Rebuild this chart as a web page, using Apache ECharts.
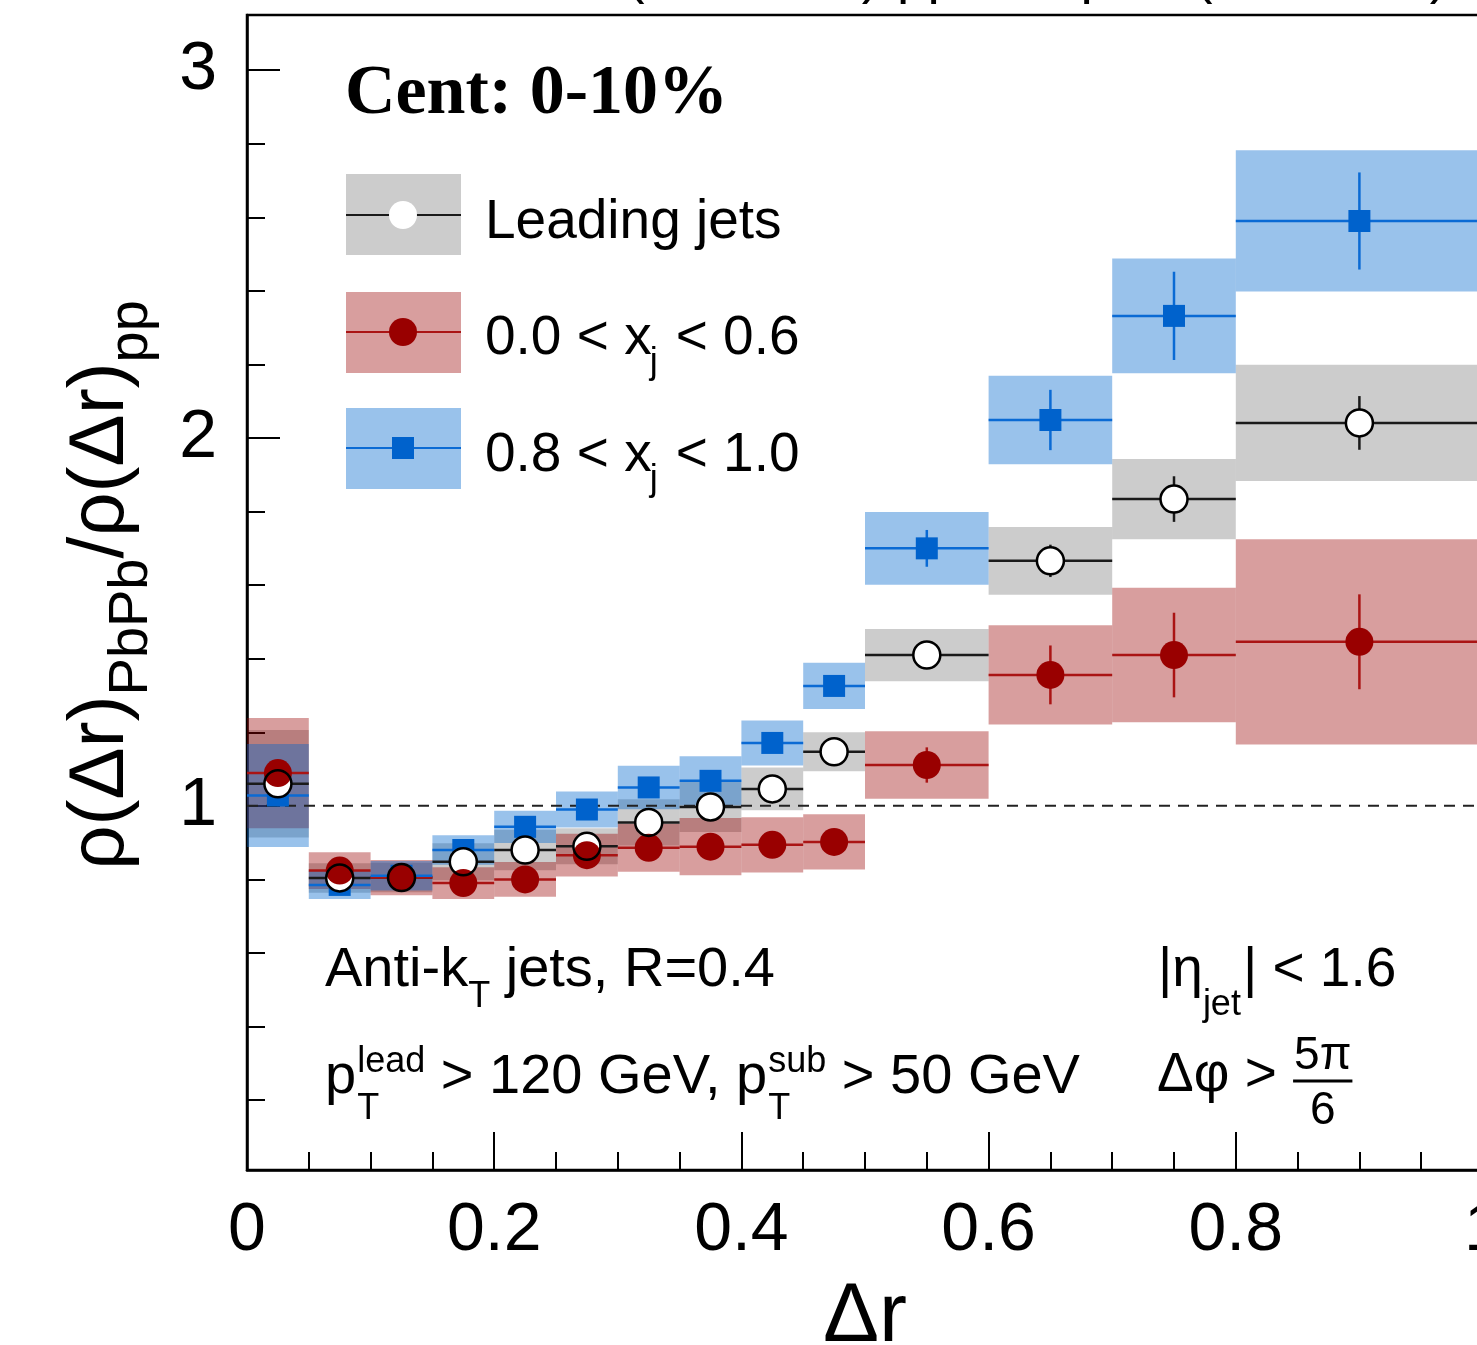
<!DOCTYPE html>
<html>
<head>
<meta charset="utf-8">
<script src="https://cdn.jsdelivr.net/npm/echarts@6/dist/echarts.min.js"></script>
<style>
  html, body { margin: 0; padding: 0; background: #fff; }
  #chart { width: 1477px; height: 1345px; }
</style>
</head>
<body>
<div id="chart"></div>
<script>
// Δr bins (lower / upper edges)
const binLow  = [0.00, 0.05, 0.10, 0.15, 0.20, 0.25, 0.30, 0.35, 0.40, 0.45, 0.50, 0.60, 0.70, 0.80];
const binHigh = [0.05, 0.10, 0.15, 0.20, 0.25, 0.30, 0.35, 0.40, 0.45, 0.50, 0.60, 0.70, 0.80, 1.00];

// Leading jets
const leadValue = [1.060, 0.804, 0.805, 0.848, 0.880, 0.890, 0.955, 0.997, 1.046, 1.147, 1.410, 1.666, 1.834, 2.041];
const leadStat  = [0.008, 0.006, 0.006, 0.008, 0.008, 0.010, 0.010, 0.012, 0.014, 0.018, 0.024, 0.044, 0.062, 0.073];
const leadSys   = [0.146, 0.040, 0.040, 0.050, 0.055, 0.049, 0.063, 0.068, 0.058, 0.053, 0.071, 0.092, 0.109, 0.158];

// 0.0 < xj < 0.6
const lowXjValue = [1.089, 0.824, 0.805, 0.790, 0.800, 0.866, 0.886, 0.889, 0.894, 0.902, 1.111, 1.356, 1.410, 1.446];
const lowXjStat  = [0.010, 0.008, 0.008, 0.010, 0.010, 0.012, 0.012, 0.014, 0.016, 0.022, 0.048, 0.080, 0.115, 0.129];
const lowXjSys   = [0.150, 0.050, 0.048, 0.043, 0.047, 0.058, 0.065, 0.078, 0.075, 0.075, 0.092, 0.135, 0.183, 0.279];

// 0.8 < xj < 1.0
const highXjValue = [1.028, 0.785, 0.810, 0.880, 0.943, 0.990, 1.050, 1.068, 1.171, 1.326, 1.700, 2.049, 2.332, 2.590];
const highXjStat  = [0.010, 0.008, 0.008, 0.010, 0.010, 0.012, 0.014, 0.016, 0.020, 0.025, 0.050, 0.082, 0.120, 0.132];
const highXjSys   = [0.140, 0.038, 0.040, 0.040, 0.044, 0.049, 0.059, 0.067, 0.061, 0.063, 0.099, 0.120, 0.156, 0.192];

// Axis ticks and labels
const xTickLabels = ['0', '0.2', '0.4', '0.6', '0.8', '1'];
const yMajorTicks = [1, 2, 3];
const yTickLabels = ['1', '2', '3'];
const yMinorTicks = [0.2, 0.4, 0.6, 0.8, 1.2, 1.4, 1.6, 1.8, 2.2, 2.4, 2.6, 2.8, 3.0];
const referenceLevel = 1;

const SANS = '"Liberation Sans", Arial, Helvetica, sans-serif';
const SERIF = '"Liberation Serif", "Times New Roman", serif';

const COL = {
  leadBox: 'rgba(0,0,0,0.2)',  leadLine: '#1a1a1a',
  lowBox:  'rgba(153,0,0,0.38)', lowLine: '#aa1414', lowMark: '#990000',
  highBox: 'rgba(0,102,204,0.40)', highLine: '#0a6ad4', highMark: '#0062cc'
};

const rows = (v, e) => binLow.map((lo, i) => [lo, binHigh[i], v[i], e[i]]);
const centers = v => binLow.map((lo, i) => [(lo + binHigh[i]) / 2, v[i]]);

function boxSeries(v, sys, fill, z) {
  return {
    type: 'custom', z, silent: true,
    data: rows(v, sys),
    encode: { x: [0, 1], y: 2 },
    renderItem: (params, api) => {
      const a = api.coord([api.value(0), api.value(2) + api.value(3)]);
      const b = api.coord([api.value(1), api.value(2) - api.value(3)]);
      return { type: 'rect', shape: { x: a[0], y: a[1], width: b[0] - a[0], height: b[1] - a[1] },
               style: { fill } };
    }
  };
}

function errorSeries(v, stat, stroke, z) {
  return {
    type: 'custom', z, silent: true,
    data: rows(v, stat),
    encode: { x: [0, 1], y: 2 },
    renderItem: (params, api) => {
      const lo = api.value(0), hi = api.value(1), y = api.value(2), e = api.value(3);
      const l = api.coord([lo, y]), r = api.coord([hi, y]);
      const c = api.coord([(lo + hi) / 2, y]);
      const t = api.coord([(lo + hi) / 2, y + e]), bt = api.coord([(lo + hi) / 2, y - e]);
      return { type: 'group', children: [
        { type: 'line', shape: { x1: l[0], y1: l[1], x2: r[0], y2: r[1] }, style: { stroke, lineWidth: 2.5 } },
        { type: 'line', shape: { x1: c[0], y1: t[1], x2: c[0], y2: bt[1] }, style: { stroke, lineWidth: 2.5 } }
      ]};
    }
  };
}

function markerSeries(v, symbol, size, itemStyle, z) {
  return { type: 'scatter', z, silent: true, symbol, symbolSize: size, data: centers(v),
           itemStyle: Object.assign({ opacity: 1 }, itemStyle) };
}

// ---- text helpers (layout of annotation runs) ----
const mctx = document.createElement('canvas').getContext('2d');
function tw(str, size, family, weight) {
  mctx.font = `${weight || 'normal'} ${size}px ${family || SANS}`;
  return mctx.measureText(str).width;
}
function txt(str, x, baseline, size, opts) {
  opts = opts || {};
  const fam = opts.family || SANS;
  const asc = fam === SERIF ? 0.3375 : 0.3465;
  return {
    type: 'text', x, y: baseline - asc * size, silent: true, z: 50,
    style: {
      text: str, font: `${opts.weight || 'normal'} ${size}px ${fam}`, fill: '#000',
      align: opts.align || 'left', textAlign: opts.align || 'left',
      verticalAlign: 'middle', textVerticalAlign: 'middle'
    }
  };
}

const graphics = [];
const F = 55, FS = 36, FB = 56;

// Header (runs above the frame)
graphics.push(txt('PbPb 1.7 nb\u207B\u00B9 (5.02 TeV)', 880, -4, F, { align: 'right' }));
graphics.push(txt('pp 320 pb\u207B\u00B9 (5.02 TeV)', 1448, -4, F, { align: 'right' }));

// Centrality label
graphics.push(txt('Cent: 0-10%', 345, 119, 70, { family: SERIF, weight: 'bold' }));

// Legend entries
const legendRows = [
  { top: 174, mid: 215, box: COL.leadBox, line: COL.leadLine },
  { top: 292, mid: 332, box: COL.lowBox, line: COL.lowLine },
  { top: 408, mid: 448, box: COL.highBox, line: COL.highLine }
];
legendRows.forEach(r => {
  graphics.push({ type: 'rect', silent: true, z: 40, shape: { x: 346, y: r.top, width: 115, height: 81 }, style: { fill: r.box } });
  graphics.push({ type: 'line', silent: true, z: 41, shape: { x1: 346, y1: r.mid, x2: 461, y2: r.mid }, style: { stroke: r.line, lineWidth: 2 } });
});
graphics.push({ type: 'circle', silent: true, z: 42, shape: { cx: 403, cy: 215, r: 14 }, style: { fill: '#fff' } });
graphics.push({ type: 'circle', silent: true, z: 42, shape: { cx: 403, cy: 332, r: 14 }, style: { fill: COL.lowMark } });
graphics.push({ type: 'rect', silent: true, z: 42, shape: { x: 392, y: 437, width: 22, height: 22 }, style: { fill: COL.highMark } });

graphics.push(txt('Leading jets', 485, 242, F));
function xjEntry(lo, hi, baseline) {
  const head = lo + ' < x';
  const w = tw(head, F);
  graphics.push(txt(head, 485, baseline, F));
  graphics.push(txt('j', 485 + w - 2, baseline + 18, FS));
  graphics.push(txt('< ' + hi, 485 + w + 24, baseline, F));
}
xjEntry('0.0', '0.6', 358);
xjEntry('0.8', '1.0', 475);

// Jet selection, lower left
(function () {
  let x = 325;
  graphics.push(txt('Anti-k', x, 990, FB)); x += tw('Anti-k', FB);
  graphics.push(txt('T', x, 1010, FS)); x += tw('T', FS) + tw(' ', FB);
  graphics.push(txt('jets, R=0.4', x, 990, FB));

  x = 325;
  graphics.push(txt('p', x, 1097, FB)); x += tw('p', FB) + 1;
  graphics.push(txt('lead', x, 1075, FS));
  graphics.push(txt('T', x, 1122, FS));
  x += tw('lead', FS) + tw(' ', FB);
  const mid = '> 120 GeV, p';
  graphics.push(txt(mid, x, 1097, FB)); x += tw(mid, FB) + 1;
  graphics.push(txt('sub', x, 1075, FS));
  graphics.push(txt('T', x, 1122, FS));
  x += tw('sub', FS) + tw(' ', FB);
  graphics.push(txt('> 50 GeV', x, 1097, FB));
})();

// Kinematic cuts, lower right
(function () {
  let x = 1158;
  graphics.push(txt('|\u03B7', x, 990, F)); x += tw('|\u03B7', F);
  graphics.push(txt('jet', x, 1018, FS)); x += tw('jet', FS) + 2;
  graphics.push(txt('| < 1.6', x, 990, F));

  x = 1157;
  const lhs = '\u0394\u03C6 > ';
  graphics.push(txt(lhs, x, 1095, F)); x += tw(lhs, F);
  const fw = tw('5\u03C0', 46);
  const cx = x + fw / 2 + 2;
  graphics.push(txt('5\u03C0', cx, 1072, 46, { align: 'center' }));
  graphics.push({ type: 'line', silent: true, z: 50, shape: { x1: cx - fw / 2 - 1, y1: 1081, x2: cx + fw / 2 + 1, y2: 1081 }, style: { stroke: '#000', lineWidth: 3 } });
  graphics.push(txt('6', cx, 1127, 46, { align: 'center' }));
})();

// Rotated y-axis title: ρ(Δr)_PbPb / ρ(Δr)_pp
(function () {
  const FM = 78, FSUB = 56, subShift = 22;
  const parts = [
    { t: '\u03C1(\u0394r)', f: FM, dy: 0 },
    { t: 'PbPb', f: FSUB, dy: subShift },
    { t: '/\u03C1(\u0394r)', f: FM, dy: 0 },
    { t: 'pp', f: FSUB, dy: subShift }
  ];
  const total = parts.reduce((s, p) => s + tw(p.t, p.f), 0);
  const children = [];
  let lx = 0;
  parts.forEach(p => {
    children.push(txt(p.t, lx, p.dy, p.f));
    lx += tw(p.t, p.f);
  });
  graphics.push({ type: 'group', x: 129, y: 585 + total / 2, rotation: Math.PI / 2, silent: true, z: 50, children });
})();

const option = {
  animation: false,
  backgroundColor: '#fff',
  grid: { left: 247, top: 15, width: 1236, height: 1155, outerBoundsMode: 'none', containLabel: false,
          show: true, borderColor: '#000', borderWidth: 2.5, backgroundColor: 'rgba(0,0,0,0)' },
  xAxis: {
    type: 'value', min: 0, max: 1, interval: 0.2,
    axisLine: { show: true, onZero: false, lineStyle: { color: '#000', width: 2.5 } },
    axisTick: { show: true, inside: true, length: 38, lineStyle: { color: '#000', width: 2 } },
    minorTick: { show: true, splitNumber: 4, length: 18, lineStyle: { color: '#000', width: 2 } },
    axisLabel: { color: '#000', fontSize: 68, fontFamily: SANS, margin: 27, hideOverlap: false,
                 formatter: v => xTickLabels[Math.round(v / 0.2)] },
    splitLine: { show: false }, minorSplitLine: { show: false },
    name: '\u0394r', nameLocation: 'middle', nameGap: 106,
    nameTextStyle: { color: '#000', fontSize: 84, fontFamily: SANS }
  },
  yAxis: [
    {
      type: 'value', min: 0.01, max: 3.15, position: 'left',
      axisLine: { show: true, onZero: false, lineStyle: { color: '#000', width: 2.5 } },
      axisTick: { show: true, inside: true, length: 33, customValues: yMajorTicks, lineStyle: { color: '#000', width: 2 } },
      axisLabel: { customValues: yMajorTicks, color: '#000', fontSize: 68, fontFamily: SANS, margin: 30,
                   formatter: v => yTickLabels[yMajorTicks.indexOf(Math.round(v))] },
      splitLine: { show: false }
    },
    {
      type: 'value', min: 0.01, max: 3.15, position: 'left',
      axisLine: { show: false },
      axisTick: { show: true, inside: true, length: 18, customValues: yMinorTicks, lineStyle: { color: '#000', width: 2 } },
      axisLabel: { show: false },
      splitLine: { show: false }
    }
  ],
  graphic: graphics,
  series: [
    boxSeries(leadValue, leadSys, COL.leadBox, 1),
    boxSeries(lowXjValue, lowXjSys, COL.lowBox, 1),
    boxSeries(highXjValue, highXjSys, COL.highBox, 1),
    {
      type: 'line', z: 2, silent: true, symbol: 'none',
      data: [[0, referenceLevel], [1, referenceLevel]],
      lineStyle: { color: '#222', width: 2, type: [11, 8] }
    },
    errorSeries(leadValue, leadStat, COL.leadLine, 3),
    errorSeries(lowXjValue, lowXjStat, COL.lowLine, 3),
    errorSeries(highXjValue, highXjStat, COL.highLine, 3),
    markerSeries(highXjValue, 'rect', 22, { color: COL.highMark }, 4),
    markerSeries(leadValue, 'circle', 28, { color: '#fff' }, 5),
    markerSeries(lowXjValue, 'circle', 28, { color: COL.lowMark }, 6),
    markerSeries(leadValue, 'circle', 27, { color: 'rgba(0,0,0,0)', borderColor: '#000', borderWidth: 2.5 }, 7)
  ]
};

const chart = echarts.init(document.getElementById('chart'), null, { renderer: 'canvas' });
chart.setOption(option);
</script>
</body>
</html>
